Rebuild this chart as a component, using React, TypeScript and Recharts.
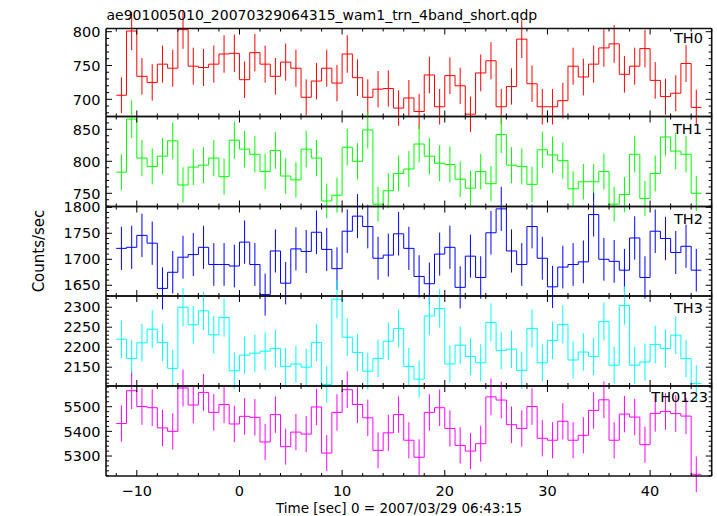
import React from 'react';
import { ComposedChart, Line, Scatter, ErrorBar, XAxis, YAxis } from 'recharts';

// ---- data ----
const TIMES = [
  -11.5, -10.5, -9.5, -8.5, -7.5, -6.5, -5.5, -4.5, -3.5, -2.5, -1.5, -0.5,
  0.5, 1.5, 2.5, 3.5, 4.5, 5.5, 6.5, 7.5, 8.5, 9.5, 10.5, 11.5, 12.5, 13.5,
  14.5, 15.5, 16.5, 17.5, 18.5, 19.5, 20.5, 21.5, 22.5, 23.5, 24.5, 25.5,
  26.5, 27.5, 28.5, 29.5, 30.5, 31.5, 32.5, 33.5, 34.5, 35.5, 36.5, 37.5,
  38.5, 39.5, 40.5, 41.5, 42.5, 43.5, 44.5,
];

const TH0 = [
  706, 801, 734, 725, 752, 746, 803, 749, 747, 752, 767, 768, 729, 769, 752, 734,
  755, 746, 703, 727, 746, 724, 767, 732, 703, 715, 716, 687, 702, 682, 736, 689,
  735, 720, 678, 739, 757, 689, 719, 789, 723, 689, 689, 698, 749, 733, 752, 776,
  782, 737, 749, 775, 728, 704, 709, 753, 688,
];
const TH1 = [
  783, 866, 805, 792, 808, 832, 763, 791, 794, 805, 776, 833, 819, 811, 784, 817,
  777, 771, 819, 805, 738, 747, 822, 800, 849, 733, 754, 781, 788, 827, 808, 797,
  795, 772, 758, 784, 765, 842, 794, 792, 764, 818, 810, 801, 757, 768, 768, 784,
  733, 748, 811, 742, 781, 838, 816, 811, 750,
];
const TH2 = [
  1721, 1723, 1746, 1731, 1644, 1675, 1704, 1709, 1723, 1690, 1690, 1687, 1733,
  1690, 1632, 1716, 1654, 1720, 1715, 1752, 1719, 1682, 1754, 1783, 1763, 1702,
  1708, 1749, 1721, 1667, 1653, 1710, 1723, 1646, 1706, 1665, 1751, 1797, 1716,
  1690, 1763, 1702, 1647, 1685, 1690, 1695, 1786, 1700, 1696, 1679, 1741, 1665,
  1754, 1740, 1713, 1725, 1679,
];
const TH3 = [
  2220, 2172, 2211, 2245, 2212, 2147, 2300, 2256, 2291, 2231, 2274, 2141, 2180,
  2185, 2190, 2197, 2152, 2158, 2150, 2212, 2107, 2320, 2225, 2187, 2140, 2172,
  2215, 2247, 2152, 2120, 2278, 2297, 2158, 2205, 2177, 2161, 2262, 2192, 2195,
  2142, 2247, 2161, 2217, 2257, 2168, 2188, 2177, 2264, 2155, 2304, 2155, 2163,
  2207, 2197, 2230, 2172, 2109,
];
const TH0123 = [
  5432, 5565, 5501, 5496, 5414, 5400, 5576, 5507, 5558, 5477, 5509, 5430, 5461,
  5457, 5357, 5468, 5338, 5397, 5389, 5499, 5312, 5477, 5569, 5509, 5455, 5323,
  5394, 5468, 5364, 5295, 5477, 5496, 5412, 5343, 5320, 5350, 5540, 5527, 5427,
  5412, 5501, 5372, 5364, 5441, 5364, 5384, 5485, 5528, 5364, 5470, 5458, 5346,
  5473, 5481, 5472, 5462, 5226,
];

// ---- ticks ----
const X_MAJOR = [-10, 0, 10, 20, 30, 40];
const X_MINOR = [-12, -10, -8, -6, -4, -2, 0, 2, 4, 6, 8, 10, 12, 14, 16, 18, 20, 22, 24, 26, 28, 30, 32, 34, 36, 38, 40, 42, 44, 46];
const TH0_MAJOR = [700, 750, 800];
const TH0_MINOR = [680, 690, 700, 710, 720, 730, 740, 750, 760, 770, 780, 790, 800];
const TH1_MAJOR = [750, 800, 850];
const TH1_MINOR = [730, 740, 750, 760, 770, 780, 790, 800, 810, 820, 830, 840, 850, 860, 870];
const TH2_MAJOR = [1650, 1700, 1750, 1800];
const TH2_MINOR = [1630, 1640, 1650, 1660, 1670, 1680, 1690, 1700, 1710, 1720, 1730, 1740, 1750, 1760, 1770, 1780, 1790, 1800];
const TH3_MAJOR = [2150, 2200, 2250, 2300];
const TH3_MINOR = [2110, 2120, 2130, 2140, 2150, 2160, 2170, 2180, 2190, 2200, 2210, 2220, 2230, 2240, 2250, 2260, 2270, 2280, 2290, 2300, 2310, 2320];
const TH0123_MAJOR = [5300, 5400, 5500];
const TH0123_MINOR = [5220, 5240, 5260, 5280, 5300, 5320, 5340, 5360, 5380, 5400, 5420, 5440, 5460, 5480, 5500, 5520, 5540, 5560, 5580];

const TITLE = 'ae901005010_20070329064315_wam1_trn_4band_short.qdp';
const X_LABEL = 'Time [sec] 0 = 2007/03/29 06:43:15';
const Y_LABEL = 'Counts/sec';

// ---- layout ----
const W = 717;
const H = 516;
const LEFT = 106;
const RIGHT = 5.3;
const TINY = 0.01;
const X_DOMAIN: [number, number] = [-13, 46];
const FONT = '"DejaVu Sans", "Liberation Sans", sans-serif';
const MAJOR_LEN = 6;
const MINOR_LEN = 3;

type PanelDef = {
  name: string;
  values: number[];
  color: string;
  top: number;
  bottom: number;
  domain: [number, number];
  major: number[];
  minor: number[];
  labelX: number;
  labelY: number;
};

const PANELS: PanelDef[] = [
  { name: 'TH0', values: TH0, color: '#ff0000', top: 28.5, bottom: 116.5, domain: [674.6, 804.7], major: TH0_MAJOR, minor: TH0_MINOR, labelX: 703, labelY: 43.3 },
  { name: 'TH1', values: TH1, color: '#00ff00', top: 116.5, bottom: 206.5, domain: [729.4, 870], major: TH1_MAJOR, minor: TH1_MINOR, labelX: 702, labelY: 134 },
  { name: 'TH2', values: TH2, color: '#0000ff', top: 206.5, bottom: 296, domain: [1629.4, 1801.5], major: TH2_MAJOR, minor: TH2_MINOR, labelX: 703, labelY: 223.7 },
  { name: 'TH3', values: TH3, color: '#00ffff', top: 296, bottom: 386, domain: [2103, 2328], major: TH3_MAJOR, minor: TH3_MINOR, labelX: 703, labelY: 313.3 },
  { name: 'TH0123', values: TH0123, color: '#ff00ff', top: 386, bottom: 476, domain: [5219, 5584], major: TH0123_MAJOR, minor: TH0123_MINOR, labelX: 708, labelY: 402.3 },
];

const AXIS_LINE = { stroke: '#111', strokeWidth: 1.6 };

const fmtX = (v: number) => (v < 0 ? '\u2212' + Math.abs(v) : String(v));
const NoShape = () => <g />;

// tick renderers: the library gives the tick position on the axis line (x, y)
type Side = 'top' | 'bottom' | 'left' | 'right';
function makeTick(side: Side, major: number[], showLabel: boolean) {
  return (props: any) => {
    const { x, y, payload } = props;
    const v = payload.value as number;
    const isMajor = major.includes(v);
    const len = isMajor ? MAJOR_LEN : MINOR_LEN;
    let x2 = x;
    let y2 = y;
    if (side === 'bottom') y2 = y - len;
    if (side === 'top') y2 = y + len;
    if (side === 'left') x2 = x + len;
    if (side === 'right') x2 = x - len;
    return (
      <g>
        <line x1={x} y1={y} x2={x2} y2={y2} stroke="#000" strokeWidth={1} />
        {showLabel && isMajor && side === 'bottom' && (
          <text x={x} y={y + 20.5} textAnchor="middle" fontFamily={FONT} fontSize={14.5} fill="#000">
            {fmtX(v)}
          </text>
        )}
        {showLabel && isMajor && side === 'left' && (
          <text x={x - 5.5} y={y + 5.2} textAnchor="end" fontFamily={FONT} fontSize={14.5} fill="#000">
            {String(v)}
          </text>
        )}
      </g>
    );
  };
}

function Panel({ p, last }: { p: PanelDef; last: boolean }) {
  const n = p.values.length;
  const stepData = p.values.map((v, i) => ({ x: TIMES[i] - 0.5, y: v }));
  stepData.push({ x: TIMES[n - 1] + 0.5, y: p.values[n - 1] });
  const errData = p.values.map((v, i) => ({ x: TIMES[i], y: v, err: Math.sqrt(v) }));

  return (
    <div style={{ position: 'absolute', left: 0, top: 0, width: W, height: H }}>
      <ComposedChart
        width={W}
        height={H}
        margin={{ top: p.top, bottom: H - p.bottom, left: LEFT, right: RIGHT }}
      >
        <XAxis xAxisId="b" type="number" dataKey="x" domain={X_DOMAIN} allowDataOverflow
          orientation="bottom" height={TINY} ticks={X_MINOR} interval={0}
          tickSize={0} tickMargin={0} tickLine={false}
          tick={makeTick('bottom', X_MAJOR, last)} axisLine={AXIS_LINE} />
        <XAxis xAxisId="t" type="number" dataKey="x" domain={X_DOMAIN} allowDataOverflow
          orientation="top" height={TINY} ticks={X_MINOR} interval={0}
          tickSize={0} tickMargin={0} tickLine={false}
          tick={makeTick('top', X_MAJOR, false)} axisLine={AXIS_LINE} />
        <YAxis yAxisId="l" type="number" dataKey="y" domain={p.domain} allowDataOverflow
          orientation="left" width={TINY} ticks={p.minor} interval={0}
          tickSize={0} tickMargin={0} tickLine={false}
          tick={makeTick('left', p.major, true)} axisLine={AXIS_LINE} />
        <YAxis yAxisId="r" type="number" dataKey="y" domain={p.domain} allowDataOverflow
          orientation="right" width={TINY} ticks={p.minor} interval={0}
          tickSize={0} tickMargin={0} tickLine={false}
          tick={makeTick('right', p.major, false)} axisLine={AXIS_LINE} />

        <Line xAxisId="b" yAxisId="l" data={stepData} dataKey="y" type="stepAfter"
          stroke={p.color} strokeWidth={1} dot={false} activeDot={false}
          isAnimationActive={false} />
        <Scatter xAxisId="b" yAxisId="l" data={errData} dataKey="y" shape={NoShape}
          isAnimationActive={false}>
          <ErrorBar dataKey="err" direction="y" width={0} stroke={p.color}
            strokeWidth={1} isAnimationActive={false} />
        </Scatter>
      </ComposedChart>
    </div>
  );
}

export default function App() {
  return (
    <div style={{ position: 'absolute', left: 0, top: 0, width: W, height: H, background: '#fff', overflow: 'hidden' }}>
      {PANELS.map((p, i) => (
        <Panel key={p.name} p={p} last={i === PANELS.length - 1} />
      ))}
      <svg width={W} height={H} style={{ position: 'absolute', left: 0, top: 0, pointerEvents: 'none' }}>
        <text x={106.5} y={19.5} fontFamily={FONT} fontSize={14} fill="#000">{TITLE}</text>
        {PANELS.map((p) => (
          <text key={p.name} x={p.labelX} y={p.labelY} textAnchor="end" fontFamily={FONT} fontSize={14.5} fill="#000">
            {p.name}
          </text>
        ))}
        <text x={276} y={512.5} fontFamily={FONT} fontSize={13.5} fill="#000">{X_LABEL}</text>
        <text x={44} y={251} textAnchor="middle" transform="rotate(-90 44 251)" fontFamily={FONT} fontSize={15} fill="#000">
          {Y_LABEL}
        </text>
      </svg>
    </div>
  );
}
